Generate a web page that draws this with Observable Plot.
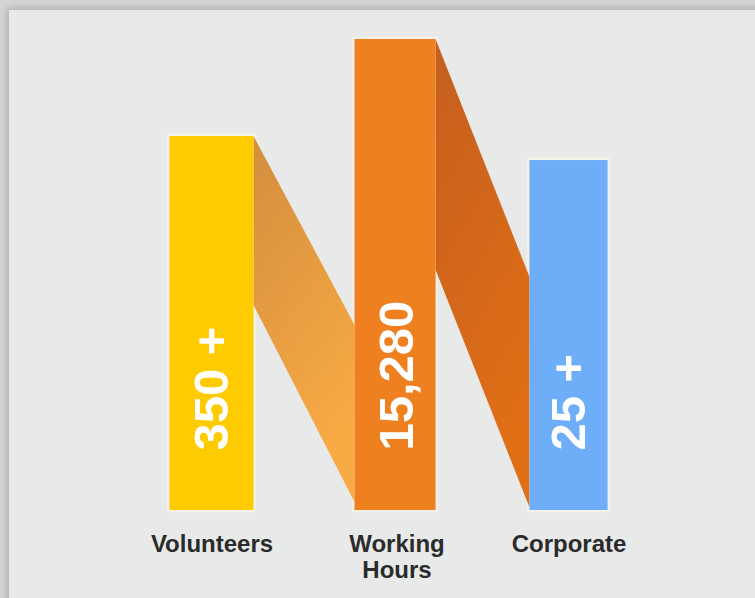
<!DOCTYPE html>
<html>
<head>
<meta charset="utf-8">
<script src="https://cdn.jsdelivr.net/npm/d3@7"></script>
<script src="https://cdn.jsdelivr.net/npm/@observablehq/plot@0.6"></script>
<style>
  html, body { margin: 0; padding: 0; width: 755px; height: 598px; overflow: hidden; background: #d3d4d4; }
  #panel { position: absolute; left: 9px; top: 10px; width: 760px; height: 600px; background: #e8eaea; box-shadow: 0 0 7px 2px rgba(0,0,0,0.18); }
  #chart { position: absolute; left: 0; top: 0; }
</style>
</head>
<body>
<div id="panel"></div>
<div id="chart"></div>
<script>
// Categories and labels
const categories = ["Volunteers", "Working\nHours", "Corporate"];
const valueLabels = ["350 +", "15,280", "25 +"];
// Relative bar heights (tallest = 100)
const barHeights = [79.4, 100, 74.3];
const barColors = ["#fecb00", "#ef801f", "#6eaef8"];
// Connecting ribbons (from bar i right edge to bar i+1 left edge)
const ribbonSourceTop = [79.4, 100];
const ribbonSourceBottom = [43.5, 51];
const ribbonTargetTop = [39.3, 49.5];
const ribbonTargetBottom = [1.7, 0.6];

const half = 0.227; // half bar width in index units
const idx = categories.map((_, i) => i);
const bars = idx.map(i => ({i, h: barHeights[i], color: barColors[i], label: valueLabels[i]}));
const ribbons = [];
ribbonSourceTop.forEach((t, k) => {
  ribbons.push({r: k, x: k + half, y1: ribbonSourceBottom[k], y2: t});
  ribbons.push({r: k, x: k + 1 - half, y1: ribbonTargetBottom[k], y2: ribbonTargetTop[k]});
});

const chart = Plot.plot({
  width: 755,
  height: 598,
  marginTop: 39,
  marginBottom: 88,
  marginLeft: 0,
  marginRight: 0,
  style: {background: "transparent", fontFamily: "'Liberation Sans', Arial, sans-serif", color: "#2b2b2b"},
  x: {type: "linear", domain: [0, 1, 2], range: [211.5, 396.5, 568.5]},
  y: {domain: [0, 100], axis: null},
  marks: [
    // soft light halo around bars
    Plot.rectY(bars, {x1: d => d.i - half, x2: d => d.i + half, y: "h", fill: "none", stroke: "#fbf4ea", strokeWidth: 5, strokeOpacity: 0.6}),
    Plot.areaY(ribbons, {x: "x", y1: "y1", y2: "y2", z: "r", fill: d => d.r === 0 ? "url(#rib0)" : "url(#rib1)", curve: "linear"}),
    Plot.rectY(bars, {x1: d => d.i - half, x2: d => d.i + half, y: "h", fill: d => d.color}),
    Plot.text(bars, {x: "i", y: 0, dy: -60, text: "label", rotate: -90, textAnchor: "start", lineAnchor: "middle", fill: "white", fontSize: 49, fontWeight: "bold"}),
    Plot.axisX({ticks: idx, tickFormat: i => categories[i], tickSize: 0, tickPadding: 23, fontSize: 24, fontWeight: "bold", lineHeight: 1.08, label: null})
  ]
});

const defs = d3.select(chart).insert("defs", ":first-child");
const g0 = defs.append("linearGradient").attr("id", "rib0").attr("x1", 0).attr("y1", 0).attr("x2", 0.35).attr("y2", 1);
g0.append("stop").attr("offset", "0%").attr("stop-color", "#d38e3e");
g0.append("stop").attr("offset", "100%").attr("stop-color", "#f8aa44");
const g1 = defs.append("linearGradient").attr("id", "rib1").attr("x1", 0).attr("y1", 0).attr("x2", 0.35).attr("y2", 1);
g1.append("stop").attr("offset", "0%").attr("stop-color", "#c45f1f");
g1.append("stop").attr("offset", "100%").attr("stop-color", "#e06e15");

document.getElementById("chart").appendChild(chart);
</script>
</body>
</html>
